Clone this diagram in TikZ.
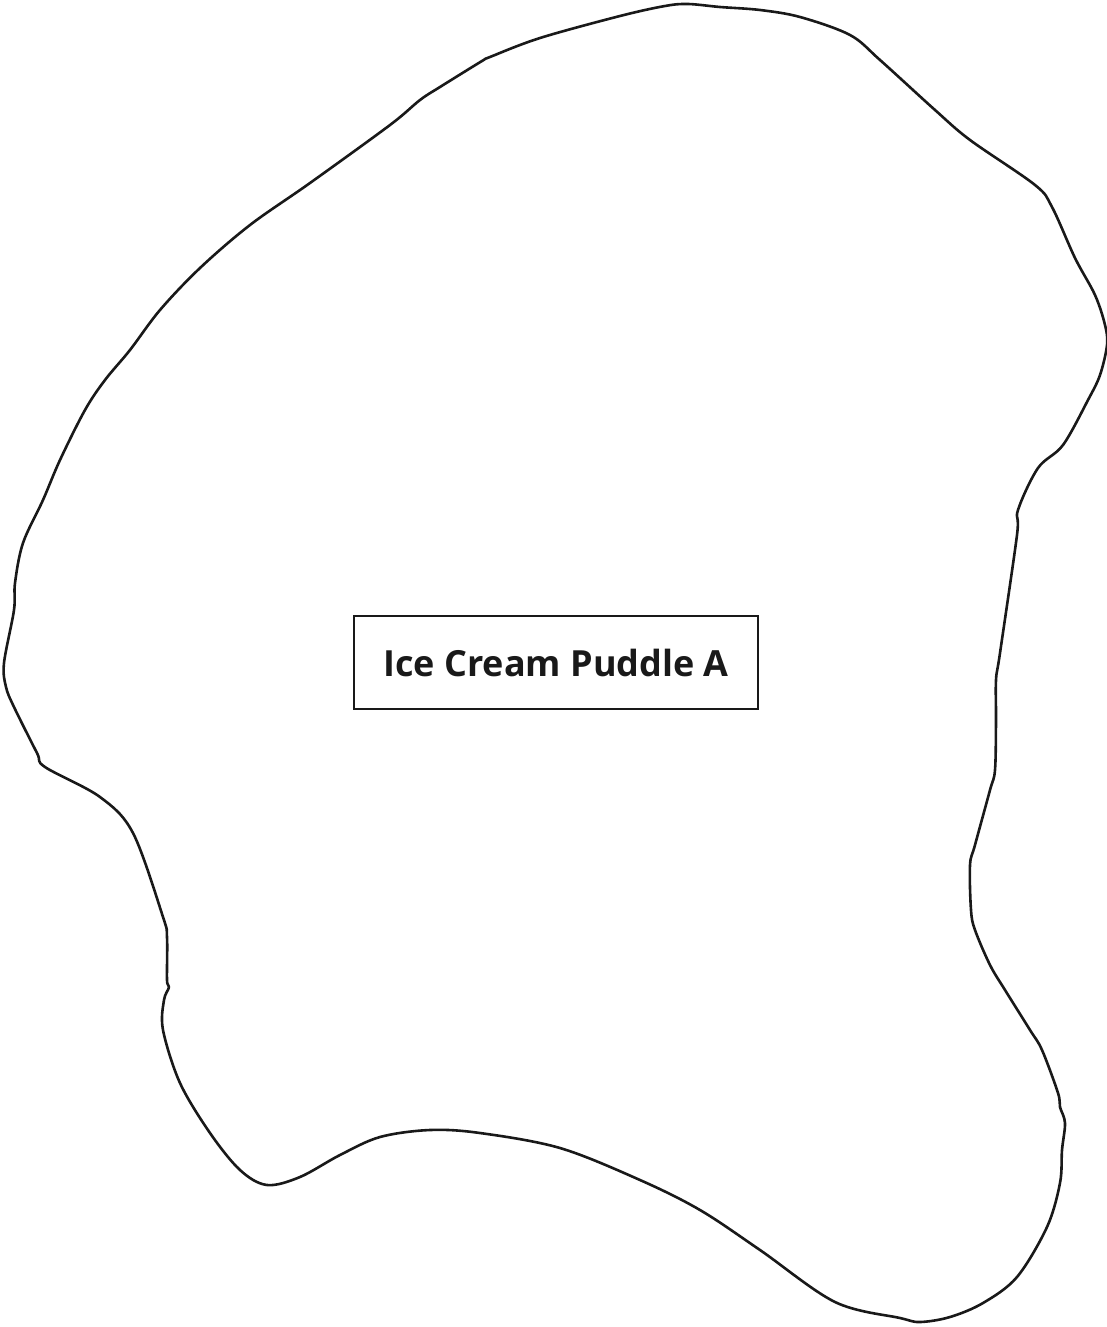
\documentclass[tikz,border=0pt]{standalone}
\usepackage{fontspec}
\setmainfont{Open Sans}
\begin{document}
\begin{tikzpicture}[x=1pt,y=-1pt,
  outline/.style={draw=black!90,line width=2.6pt,line join=round},
  labelbox/.style={draw=black!90,line width=2.2pt,minimum width=404pt,minimum height=93pt,inner sep=0pt,font=\fontsize{36}{40}\selectfont\bfseries,text=black!90}]
\useasboundingbox (0,0) rectangle (1107,1327);
\draw[outline] plot[smooth cycle,tension=0.55] coordinates {
 (688,4) (720,7) (760,10) (800,17) (850,35) (880,60) (935,110) (970,140)
 (1035,185) (1052,207) (1075,258) (1095,295) (1105,325) (1107,345) (1100,375)
 (1088,400) (1063,445) (1038,468) (1018,510) (1017,535) (1000,653) (996,680)
 (996,720) (995,770) (990,790) (975,845) (970,865) (971,910) (975,930) (990,965)
 (1005,990) (1030,1030) (1042,1050) (1058,1093) (1060,1107) (1065,1123) (1062,1150)
 (1060,1183) (1047,1227) (1017,1277) (983,1303) (950,1317) (920,1322) (900,1318)
 (835,1302) (760,1250) (700,1210) (640,1180) (560,1148) (480,1133) (430,1130)
 (380,1137) (340,1155) (300,1177) (267,1185) (240,1170) (210,1133) (180,1083)
 (163,1030) (164,1000) (169,987) (167,980) (167,937) (163,917) (133,833)
 (100,797) (45,767) (37,753) (14,707) (6,687) (4,663) (14,610) (15,583) (23,543)
 (43,500) (60,460) (85,410) (105,380) (130,350) (160,310) (200,268) (250,225)
 (310,183) (390,125) (420,100) (440,87) (482,61) (490,57) (540,38) (620,16) (665,6)
};
\node[labelbox] (label) at (556,662.5) {Ice Cream Puddle A};
\end{tikzpicture}
\end{document}
